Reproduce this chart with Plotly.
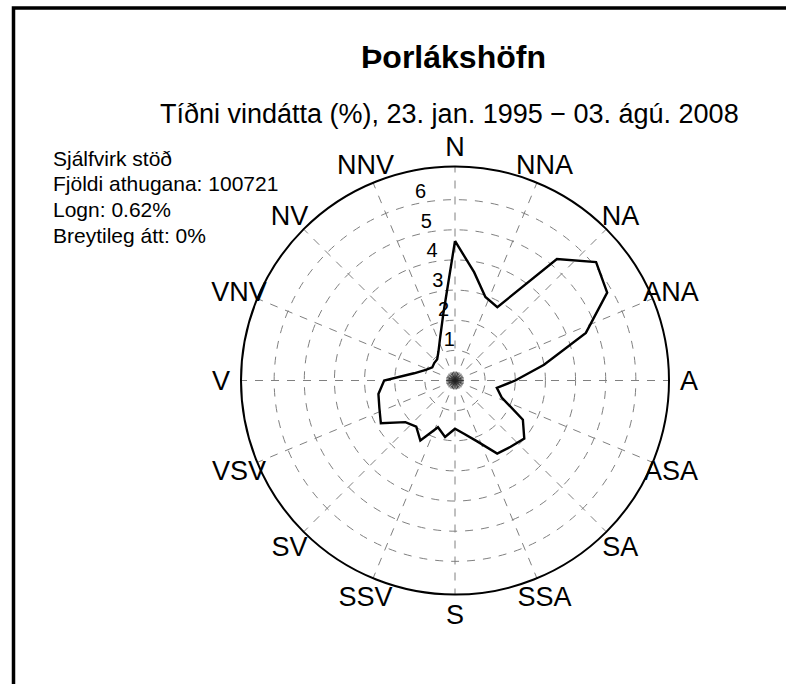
import plotly.graph_objects as go

# ---- data ----
directions_deg = [0, 10, 20, 30, 40, 50, 60, 70, 80, 90, 100, 110, 120, 130, 140, 150, 160, 170,
                  180, 190, 200, 210, 220, 230, 240, 250, 260, 270, 280, 290, 300, 310, 320, 330, 340, 350]
frequency_pct = [4.63, 3.65, 2.95, 2.81, 5.26, 6.11, 5.83, 4.62, 3.0, 2.0, 1.41, 1.65, 2.6, 3.0, 2.87, 2.8, 2.15, 1.8,
                 1.6, 1.9, 1.65, 2.3, 2.0, 2.15, 2.84, 2.67, 2.58, 2.35, 1.38, 1.03, 0.87, 0.9, 0.92, 1.1, 1.46, 2.24]
compass_deg = [0, 22.5, 45, 67.5, 90, 112.5, 135, 157.5, 180, 202.5, 225, 247.5, 270, 292.5, 315, 337.5]
compass_labels = ["N", "NNA", "NA", "ANA", "A", "ASA", "SA", "SSA", "S", "SSV", "SV", "VSV", "V", "VNV", "NV", "NNV"]
radial_ticks = [1, 2, 3, 4, 5, 6]
radial_label_theta = 349
info_lines = ["Sjálfvirk stöð", "Fjöldi athugana: 100721", "Logn: 0.62%", "Breytileg átt: 0%"]
title_text = "Þorlákshöfn"
subtitle_text = "Tíðni vindátta (%), 23. jan. 1995 − 03. ágú. 2008"

W, H = 786, 684
FONT = "Liberation Sans, Arial, sans-serif"
R_MAX = 7.1          # outer (solid) circle
LABEL_R = 7.76       # radius where compass labels are centred
PX_PER_UNIT = 214 / R_MAX
cx, cy = 455, 380.5


def domain_for(rmax, dy=0.0):
    rad = rmax * PX_PER_UNIT
    yc = cy + dy
    return dict(x=[(cx - rad) / W, (cx + rad) / W], y=[(H - yc - rad) / H, (H - yc + rad) / H])


fig = go.Figure()

# small star at the centre (one short spoke per direction)
star_r, star_t = [], []
for d in directions_deg:
    star_r += [0, 0.3, None]
    star_t += [d, d, None]
fig.add_trace(go.Scatterpolar(r=star_r, theta=star_t, mode="lines",
                              line=dict(color="#222222", width=0.8),
                              hoverinfo="skip", showlegend=False))

# closed polygon of frequencies
fig.add_trace(go.Scatterpolar(r=frequency_pct + frequency_pct[:1],
                              theta=directions_deg + directions_deg[:1],
                              mode="lines", line=dict(color="black", width=2.4),
                              showlegend=False))

# radial scale labels, upright, just above a line slightly west of north
fig.add_trace(go.Scatterpolar(r=radial_ticks, theta=[radial_label_theta] * len(radial_ticks),
                              mode="text", text=[str(v) for v in radial_ticks], textposition="top center",
                              textfont=dict(size=20, color="black", family=FONT),
                              cliponaxis=False, hoverinfo="skip", showlegend=False))

# compass labels on a transparent overlay polar with the same scale
fig.add_trace(go.Scatterpolar(r=[LABEL_R] * len(compass_deg), theta=compass_deg, subplot="polar2",
                              mode="text", text=compass_labels, textposition="middle center",
                              textfont=dict(size=27, color="black", family=FONT),
                              cliponaxis=False, hoverinfo="skip", showlegend=False))

hidden_axis = dict(visible=False, showgrid=False, showline=False, showticklabels=False, ticks="")

fig.update_layout(
    width=W, height=H, autosize=False,
    margin=dict(l=0, r=0, t=0, b=0),
    paper_bgcolor="white", plot_bgcolor="white",
    font=dict(family=FONT, color="black"),
    polar=dict(
        domain=domain_for(R_MAX),
        bgcolor="white",
        angularaxis=dict(direction="clockwise", rotation=90, thetaunit="degrees",
                         tickmode="array", tickvals=compass_deg, ticktext=compass_labels,
                         showticklabels=False,
                         ticks="", showline=True, linecolor="black", linewidth=2,
                         showgrid=True, gridcolor="#808080", gridwidth=1, griddash="8px,8px"),
        radialaxis=dict(range=[0, R_MAX], tickmode="array", tickvals=radial_ticks,
                        showticklabels=False, showline=False, ticks="",
                        showgrid=True, gridcolor="#808080", gridwidth=1, griddash="8px,8px"),
    ),
    polar2=dict(
        domain=domain_for(LABEL_R + 0.05, dy=3),
        bgcolor="rgba(0,0,0,0)",
        angularaxis=dict(direction="clockwise", rotation=90, thetaunit="degrees", **hidden_axis),
        radialaxis=dict(range=[0, LABEL_R + 0.05], **hidden_axis),
    ),
)

# frame
fig.add_shape(type="rect", xref="paper", yref="paper",
              x0=13.5 / W, x1=1.05, y0=-0.05, y1=1 - 8 / H,
              line=dict(color="black", width=3.5), fillcolor="rgba(0,0,0,0)")

# titles
fig.add_annotation(x=453 / W, y=1 - 57 / H, xref="paper", yref="paper", text="<b>" + title_text + "</b>",
                   showarrow=False, xanchor="center", yanchor="middle",
                   font=dict(size=32, family=FONT, color="black"))
fig.add_annotation(x=450 / W, y=1 - 114 / H, xref="paper", yref="paper", text=subtitle_text,
                   showarrow=False, xanchor="center", yanchor="middle",
                   font=dict(size=27, family=FONT, color="black"))

# info lines
for i, line in enumerate(info_lines):
    fig.add_annotation(x=51 / W, y=1 - (158 + 25.7 * i) / H, xref="paper", yref="paper", text=line,
                       showarrow=False, xanchor="left", yanchor="middle",
                       font=dict(size=21, family=FONT, color="black"))

fig.write_html("out.html", config={"displayModeBar": False},
               post_script="document.body.style.margin='0';")
